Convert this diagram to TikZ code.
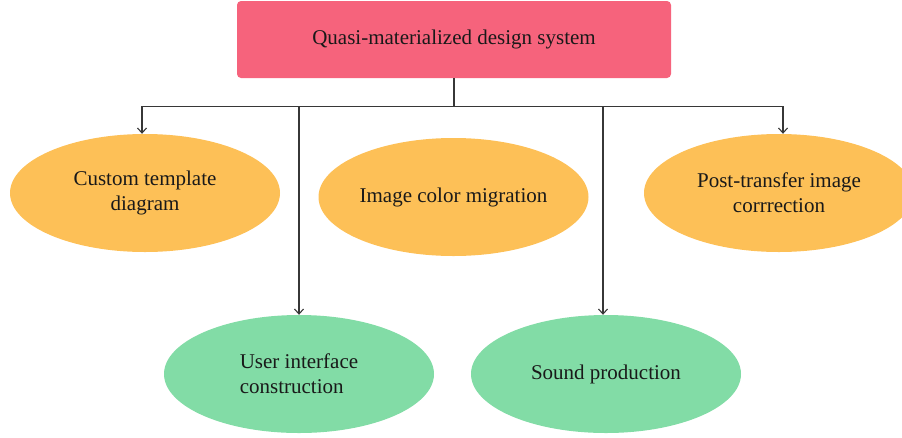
\documentclass[tikz,border=0pt]{standalone}
\usepackage{fontspec}
\setmainfont{Liberation Serif}
\usetikzlibrary{arrows.meta,shapes.geometric}
\definecolor{toppink}{RGB}{246,99,124}
\definecolor{ovalorange}{RGB}{253,192,87}
\definecolor{ovalgreen}{RGB}{130,220,166}
\definecolor{linegray}{RGB}{55,55,55}
\begin{document}
\begin{tikzpicture}[x=1pt,y=-1pt,>={Straight Barb[length=5pt,width=9pt]},
  every node/.style={font=\fontsize{21}{25}\selectfont,text=black!90,align=center},
  topbox/.style={rectangle,rounded corners=4pt,fill=toppink,minimum width=434pt,minimum height=77pt},
  oval/.style={ellipse,minimum width=270pt,minimum height=118pt,inner sep=0pt},
  link/.style={draw=linegray,line width=1.1pt}]
\useasboundingbox (0,0) rectangle (902,437);
\node[topbox] (qmds) at (454,39.5) {Quasi-materialized design system};
\node[oval,fill=ovalorange] (ctd) at (145,193) {Custom template\\diagram};
\node[oval,fill=ovalorange] (icm) at (453.5,197) {Image color migration};
\node[oval,fill=ovalorange] (ptic) at (779,193) {Post-transfer image\\corrrection};
\node[oval,fill=ovalgreen,align=left] (uic) at (299,374) {User interface\\construction};
\node[oval,fill=ovalgreen] (sp) at (606,374) {Sound production};
% tree of connectors
\draw[link] (qmds.south) -- ++(0,28) coordinate (hub);
\foreach \t/\dx in {ctd/-3,uic/0,sp/-3,ptic/4}
{
    \draw[link,->] (hub) -| ([xshift=\dx pt]\t.north);
}
\end{tikzpicture}
\end{document}
